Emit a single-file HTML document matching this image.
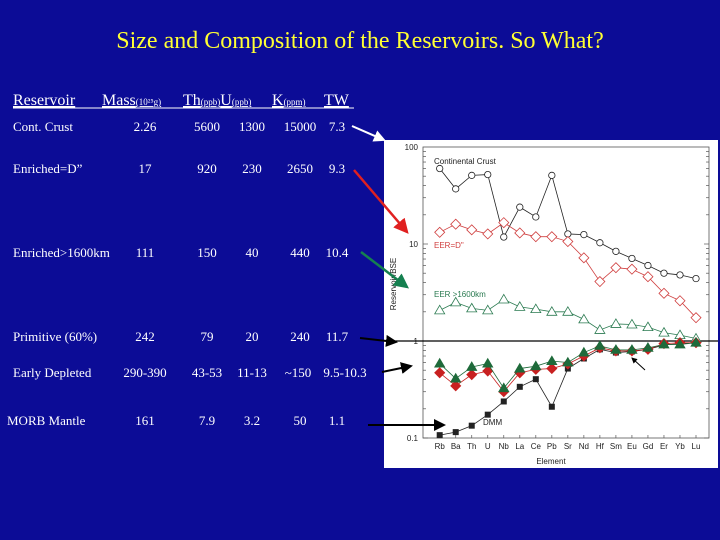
<!DOCTYPE html>
<html><head><meta charset="utf-8"><style>
html,body{margin:0;padding:0;background:#0c0c96;}
svg{display:block;}
.t{font-family:"Liberation Serif",serif;fill:#fff;font-size:13px;}
.h{font-family:"Liberation Serif",serif;fill:#fff;font-size:16px;text-decoration:underline;}
.s{font-family:"Liberation Serif",serif;font-size:9px;}
.c{font-family:"Liberation Sans",sans-serif;font-size:8px;fill:#222;}
</style></head><body>
<svg id="root" width="720" height="540" viewBox="0 0 720 540">
<rect width="720" height="540" fill="#0c0c96"/>
<text x="360" y="48" text-anchor="middle" font-family="Liberation Serif,serif" font-size="24" fill="#ffff33">Size and Composition of the Reservoirs.  So What?</text>
<g>
<text class="h" x="13" y="105">Reservoir</text>
<text class="h" x="102" y="105">Mass<tspan class="s">(10²⁵g)</tspan></text>
<text class="h" x="183" y="105">Th<tspan class="s">(ppb)</tspan>U<tspan class="s">(ppb)</tspan></text>
<text class="h" x="272" y="105">K<tspan class="s">(ppm)</tspan></text>
<text class="h" x="324" y="105">TW</text>
<line x1="13" y1="108" x2="354" y2="108" stroke="#fff" stroke-width="1"/>
</g>
<g id="rows"></g>
<g id="chart"></g>
<g id="arrows"></g>
</svg>
<script>
const NS="http://www.w3.org/2000/svg";
function mk(tag,attrs,parent){const e=document.createElementNS(NS,tag);for(const k in attrs)e.setAttribute(k,attrs[k]);parent.appendChild(e);return e;}
const rowNames=["Cont. Crust","Enriched=D”","Enriched>1600km","Primitive (60%)","Early Depleted","MORB Mantle"];
const rowMass=["2.26","17","111","242","290-390","161"];
const rowTh=["5600","920","150","79","43-53","7.9"];
const rowU=["1300","230","40","20","11-13","3.2"];
const rowK=["15000","2650","440","240","~150","50"];
const rowTW=["7.3","9.3","10.4","11.7","9.5-10.3","1.1"];
const rowY=[131,173,257,341,377,425];
const rows=document.getElementById('rows');
rowNames.forEach((n,i)=>{
  const g=mk('g',{},rows);
  
  
  const cells=[[i==5?7:13,n,'start'],[i==4?145:145,rowMass[i],'middle'],[207,rowTh[i],'middle'],[252,rowU[i],'middle'],[i==4?298:300,rowK[i],'middle'],[i==4?345:337,rowTW[i],'middle']];
  cells.forEach(c=>{const t=mk('text',{class:'t',x:c[0],y:rowY[i],'text-anchor':c[2]},g);t.textContent=c[1];
    
    });
});
const elements=["Rb","Ba","Th","U","Nb","La","Ce","Pb","Sr","Nd","Hf","Sm","Eu","Gd","Er","Yb","Lu"];
const ccVals=[60,37,51,52,11.8,24,19,51,12.7,12.5,10.3,8.4,7.1,6.0,5.0,4.8,4.4];
const eerVals=[13.2,16,14,12.7,16.6,13,11.9,11.9,10.6,7.2,4.1,5.7,5.5,4.6,3.1,2.6,1.74];
const eer1600Vals=[2.07,2.5,2.17,2.07,2.68,2.25,2.13,2.0,2.0,1.67,1.3,1.5,1.48,1.39,1.22,1.15,1.06];
const primVals=[0.585,0.41,0.54,0.585,0.326,0.52,0.55,0.62,0.6,0.76,0.89,0.81,0.81,0.85,0.92,0.92,0.96];
const edVals=[0.47,0.345,0.45,0.49,0.30,0.47,0.51,0.52,0.58,0.70,0.85,0.79,0.79,0.82,0.94,0.96,0.96];
const dmmVals=[0.107,0.115,0.134,0.174,0.238,0.337,0.404,0.21,0.52,0.66,0.82,0.76,0.78,0.82,0.91,0.94,0.96];
const yTicks=[100,10,1,0.1];
const yTickLabels=["100","10","1","0.1"];
const PL=423,PR=709,PT=147,PB=438;
const x=i=>439.7+i*(696-439.7)/(elements.length-1);
const y=v=>PT+(2-Math.log10(v))*(PB-PT)/3;
const ch=document.getElementById('chart');
const bg=mk('rect',{x:384,y:140,width:334,height:328,fill:'#fff'},ch);

const frame=mk('rect',{x:PL,y:PT,width:PR-PL,height:PB-PT,fill:'none',stroke:'#555','stroke-width':0.8},ch);

for(let d=-1;d<2;d++){for(let m=1;m<10;m++){const v=m*Math.pow(10,d);const yy=y(v);const len=m==1?5:3;
  mk('line',{x1:PL,x2:PL+len,y1:yy,y2:yy,stroke:'#555','stroke-width':0.7},ch);
  mk('line',{x1:PR,x2:PR-len,y1:yy,y2:yy,stroke:'#555','stroke-width':0.7},ch);}}
yTicks.forEach((v,i)=>{const t=mk('text',{class:'c',x:PL-5,y:y(v)+3,'text-anchor':'end'},ch);t.textContent=yTickLabels[i];
  });
elements.forEach((e,i)=>{mk('line',{x1:x(i),x2:x(i),y1:PB,y2:PB-3,stroke:'#555','stroke-width':0.7},ch);
  const t=mk('text',{class:'c',x:x(i),y:PB+11,'text-anchor':'middle'},ch);t.textContent=e;
  });
const xl=mk('text',{class:'c',x:551,y:464,'text-anchor':'middle','font-size':9},ch);xl.textContent='Element';

const yl=mk('text',{class:'c',x:0,y:0,'text-anchor':'middle','font-size':9,transform:'translate(396,284) rotate(-90)'},ch);yl.textContent='Reservoir/BSE';

const ref=mk('line',{x1:384,x2:718,y1:y(1),y2:y(1),stroke:'#000','stroke-width':1.2},ch);

function series(vals,color,marker,fill,name){
  const g=mk('g',{},ch);
  mk('polyline',{points:vals.map((v,i)=>x(i)+','+y(v)).join(' '),fill:'none',stroke:color,'stroke-width':0.8},g);
  vals.forEach((v,i)=>{const cx=x(i),cy=y(v);let m;
    if(marker=='circle')m=mk('circle',{cx:cx,cy:cy,r:3.2,fill:fill,stroke:color,'stroke-width':0.8},g);
    else if(marker=='diamond')m=mk('polygon',{points:`${cx},${cy-5} ${cx+5},${cy} ${cx},${cy+5} ${cx-5},${cy}`,fill:fill,stroke:color,'stroke-width':0.8},g);
    else if(marker=='tri')m=mk('polygon',{points:`${cx},${cy-5} ${cx+5},${cy+3.5} ${cx-5},${cy+3.5}`,fill:fill,stroke:color,'stroke-width':0.8},g);
    else m=mk('rect',{x:cx-2.5,y:cy-2.5,width:5,height:5,fill:fill,stroke:color},g);
    });
}
series(ccVals,'#222','circle','#fff','series-continental-crust');
series(eerVals,'#d04040','diamond','#fff','series-eer-d');
series(eer1600Vals,'#2a7a50','tri','#fff','series-eer-1600km');
series(dmmVals,'#222','square','#222','series-dmm');
series(edVals,'#c82020','diamond','#c82020','series-early-depleted');
series(primVals,'#1e6a3a','tri','#1e6a3a','series-primitive');
[['Continental Crust',434,164,'#222'],['EER=D"',434,248,'#d04040'],['EER >1600km',434,297,'#2a7a50'],['DMM',483,425,'#222']].forEach(l=>{
  const t=mk('text',{class:'c',x:l[1],y:l[2],fill:l[3],'font-size':9},ch);t.textContent=l[0];t.style.fill=l[3];
  });
const ar=document.getElementById('arrows');
const defs=mk('defs',{},ar);
[['r','#e02020'],['g','#158050'],['k','#000'],['w','#fff']].forEach(c=>{const m=mk('marker',{id:'m'+c[0],markerWidth:6,markerHeight:6,refX:5,refY:3,orient:'auto'},defs);mk('path',{d:'M0,0 L6,3 L0,6 z',fill:c[1]},m);});
[[352,126,384,140,'#fff','w',2],[354,170,407,232,'#e02020','r',2.5],[361,252,407,287,'#158050','g',2.5],[360,338,396,342,'#000','k',2],[382,372,411,366,'#000','k',2],[368,425,444,425,'#000','k',2],[645,370,632,358,'#000','k',1]].forEach(a=>{
  const l=mk('line',{x1:a[0],y1:a[1],x2:a[2],y2:a[3],stroke:a[4],'stroke-width':a[6],'marker-end':'url(#m'+a[5]+')'},ar);
  });
</script>
</body></html>
